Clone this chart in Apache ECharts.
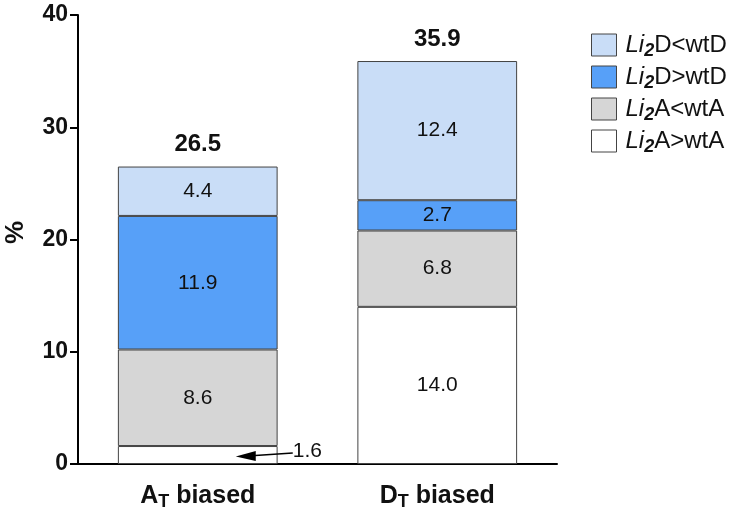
<!DOCTYPE html>
<html><head><meta charset="utf-8">
<script src="https://cdn.jsdelivr.net/npm/echarts@6/dist/echarts.min.js"></script>
<style>html,body{margin:0;padding:0;background:#fff}#c{width:737px;height:516px}</style>
</head><body><div id="c"></div>
<script>
const categories = ['A_T biased', 'D_T biased'];
const seriesNames = ['Li2A>wtA', 'Li2A<wtA', 'Li2D>wtD', 'Li2D<wtD'];
const aGreaterWtA = [1.6, 14.0];
const aLessWtA = [8.6, 6.8];
const dGreaterWtD = [11.9, 2.7];
const dLessWtD = [4.4, 12.4];
const totals = [26.5, 35.9];
const yTicks = [0, 10, 20, 30, 40];

const colors = ['#ffffff', '#d6d6d6', '#57a0f8', '#c9ddf7'];
const values = [aGreaterWtA, aLessWtA, dGreaterWtD, dLessWtD];
const FONT = 'Liberation Sans, Arial, sans-serif';

const chart = echarts.init(document.getElementById('c'));

function legendFmt(name) {
  const m = name.match(/^Li2(.*)$/);
  return '{i|Li}{s|2}{n|' + m[1] + '}';
}

const series = values.map((arr, si) => ({
  name: seriesNames[si],
  type: 'bar',
  stack: 'total',
  barWidth: '66.7%',
  data: arr.map((v, di) => (si === 0 && di === 0) ? { value: v, label: { show: false } } : v),
  itemStyle: { color: colors[si], borderColor: '#444', borderWidth: 1 },
  label: {
    show: true, position: 'inside', color: '#111', fontSize: 21, fontFamily: FONT,
    formatter: p => p.value.toFixed(1)
  }
}));
series.push({
  name: 'total', type: 'bar', stack: 'total', barWidth: '66.7%',
  data: totals.map(() => 0),
  itemStyle: { color: 'transparent', borderWidth: 0 },
  label: {
    show: true, position: 'top', distance: 10, color: '#111', fontSize: 24, fontWeight: 'bold', fontFamily: FONT,
    formatter: p => totals[p.dataIndex].toFixed(1)
  },
  silent: true
});

chart.setOption({
  animation: false,
  grid: { left: 78, right: 180, top: 15, bottom: 52, containLabel: false, outerBoundsMode: 'none' },
  legend: {
    data: seriesNames.slice().reverse(),
    orient: 'vertical', left: 586, top: 28,
    itemWidth: 25, itemHeight: 22, itemGap: 5,
    icon: 'rect',
    formatter: legendFmt,
    textStyle: {
      fontFamily: FONT, fontSize: 24, color: '#111', padding: [0, 0, 0, 4],
      rich: {
        i: { fontStyle: 'italic', fontSize: 24, fontFamily: FONT, color: '#111' },
        s: { fontStyle: 'italic', fontWeight: 'bold', fontSize: 18, fontFamily: FONT, color: '#111', padding: [12, 0, 0, 0] },
        n: { fontSize: 24, fontFamily: FONT, color: '#111' }
      }
    },
    itemStyle: { borderColor: '#444', borderWidth: 1 }
  },
  xAxis: {
    type: 'category', data: categories,
    axisLine: { lineStyle: { color: '#000', width: 2 } },
    axisTick: { alignWithLabel: true, length: 6, lineStyle: { color: '#000', width: 2 } },
    axisLabel: {
      margin: 17,
      formatter: v => { const [a, rest] = v.split('_'); return '{b|' + a + '}{sub|' + rest[0] + '}{b| ' + rest.slice(2) + '}'; },
      rich: {
        b: { fontSize: 25, fontWeight: 'bold', fontFamily: FONT, color: '#111' },
        sub: { fontSize: 18, fontWeight: 'bold', fontFamily: FONT, color: '#111', padding: [12, 0, 0, 0] }
      }
    }
  },
  yAxis: {
    type: 'value', min: 0, max: 40, interval: 10,
    name: '%', nameLocation: 'middle', nameGap: 49, nameRotate: 90,
    nameTextStyle: { fontSize: 26, fontWeight: 'bold', fontFamily: FONT, color: '#111', padding: [0, 0, 0, 14] },
    axisLine: { show: true, lineStyle: { color: '#000', width: 2 } },
    axisTick: { show: true, length: 8, lineStyle: { color: '#000', width: 2 } },
    axisLabel: { fontSize: 23, fontWeight: 'bold', fontFamily: FONT, color: '#111', margin: 10,
      formatter: v => yTicks.includes(v) ? String(v) : '' },
    splitLine: { show: false }
  },
  series
});

// annotation for the small 1.6 segment
const mid = chart.convertToPixel({ seriesIndex: 0 }, [categories[0], aGreaterWtA[0] / 2]);
const xBarRight = mid[0] + 80;
chart.setOption({
  graphic: [
    { type: 'line', z: 100, shape: { x1: xBarRight + 15, y1: mid[1] - 2, x2: mid[0] + 50, y2: mid[1] + 1 },
      style: { stroke: '#000', lineWidth: 1.5 } },
    { type: 'polygon', z: 100, shape: { points: [[mid[0] + 38, mid[1] + 1.5], [mid[0] + 58, mid[1] - 4], [mid[0] + 58, mid[1] + 6]] },
      style: { fill: '#000' } },
    { type: 'text', z: 100, style: { text: aGreaterWtA[0].toFixed(1), x: xBarRight + 15, y: mid[1] - 4, fontSize: 21, fontFamily: FONT, fill: '#111', textVerticalAlign: 'middle' } }
  ]
});
</script></body></html>
